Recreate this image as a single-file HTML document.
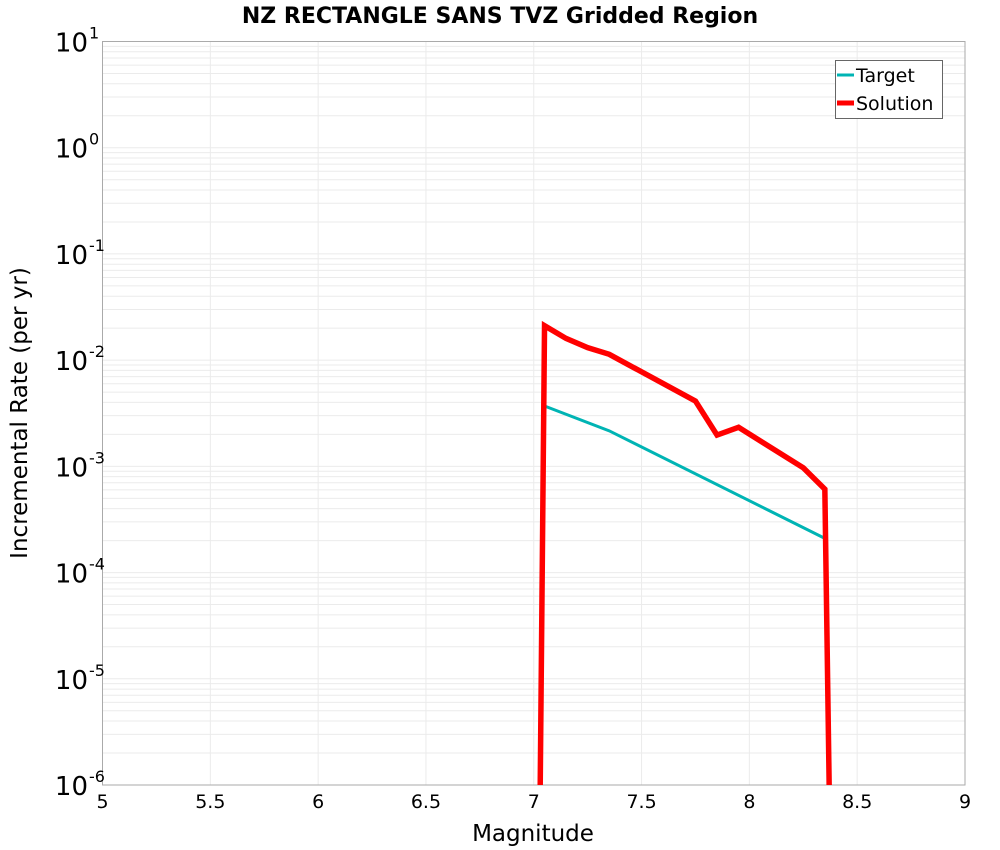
<!DOCTYPE html>
<html><head><meta charset="utf-8"><style>body{margin:0;background:#fff}svg{display:block;font-family:"DejaVu Sans","Liberation Sans",sans-serif}</style></head>
<body>
<svg id="chart" width="1000" height="850"></svg>
<script>
const targetMag=[7.05,7.35,8.35];
const targetRate=[0.0037,0.00216,0.00021];
const solutionMag=[7.03,7.05,7.15,7.25,7.35,7.75,7.85,7.95,8.25,8.35,8.37];
const solutionRate=[1e-6,0.0211,0.016,0.0131,0.01135,0.00412,0.00197,0.00233,0.00097,0.00061,1e-6];
const xTicks=[5,5.5,6,6.5,7,7.5,8,8.5,9];
const yExp=[1,0,-1,-2,-3,-4,-5,-6];
const L=102.5,R=965,T=41.5,B=785;
const xS=m=>L+(m-5)/4*(R-L);
const yS=v=>T+(1-Math.log10(v))/7*(B-T);
const svg=document.getElementById('chart');
const NS='http://www.w3.org/2000/svg';
function mk(t,a,p){const e=document.createElementNS(NS,t);for(const k in a)e.setAttribute(k,a[k]);(p||svg).appendChild(e);return e;}
const grid=mk('g',{});


for(let d=-6;d<1;d++){for(let k=1;k<10;k++){const y=yS(k*Math.pow(10,d));mk('line',{x1:L,x2:R,y1:y,y2:y,stroke:'#ebebeb','stroke-width':1},grid);}}
xTicks.forEach(m=>{const x=xS(m);mk('line',{x1:x,x2:x,y1:T,y2:B,stroke:'#ebebeb','stroke-width':1},grid);});
const frame=mk('rect',{x:L,y:T,width:R-L,height:B-T,fill:'none',stroke:'#aaa','stroke-width':1});


xTicks.forEach(m=>{const t=mk('text',{x:xS(m),y:808,'text-anchor':'middle','font-size':19,fill:'#000'});t.textContent=String(m);

});
yExp.forEach(e=>{const y=yS(Math.pow(10,e));const t=mk('text',{x:88,y:y+10,'text-anchor':'end','font-size':26,fill:'#000'});t.textContent='10';


const s=mk('text',{x:89,y:y-3,'text-anchor':'start','font-size':16,fill:'#000'});s.textContent=String(e);

});
function line(mags,rates,col,w,name){const p=mk('polyline',{points:mags.map((m,i)=>xS(m)+','+yS(rates[i])).join(' '),fill:'none',stroke:col,'stroke-width':w,'stroke-linejoin':'miter'});

}
line(targetMag,targetRate,'#00b4b4',3,'target-line');
line(solutionMag,solutionRate,'#ff0000',5.5,'solution-line');
</script>
<svg style="position:absolute;left:0;top:0" width="1000" height="850">
<text x="500" y="23" text-anchor="middle" font-size="22" font-weight="bold" font-family="DejaVu Sans,Liberation Sans,sans-serif">NZ RECTANGLE SANS TVZ Gridded Region</text>
<text x="533" y="841" text-anchor="middle" font-size="23" font-family="DejaVu Sans,Liberation Sans,sans-serif">Magnitude</text>
<text transform="translate(27,413) rotate(-90)" text-anchor="middle" font-size="23" font-family="DejaVu Sans,Liberation Sans,sans-serif">Incremental Rate (per yr)</text>
<g>
<rect x="835.5" y="60.5" width="107" height="58" fill="#fff" stroke="#666" stroke-width="1"/>
<line x1="837" x2="854" y1="75" y2="75" stroke="#00b4b4" stroke-width="3"/>
<text x="856" y="82" font-size="19" font-family="DejaVu Sans,Liberation Sans,sans-serif">Target</text>
<line x1="837" x2="854" y1="103" y2="103" stroke="#ff0000" stroke-width="5"/>
<text x="856" y="110" font-size="19" font-family="DejaVu Sans,Liberation Sans,sans-serif">Solution</text>
</g>
</svg>
</body></html>
